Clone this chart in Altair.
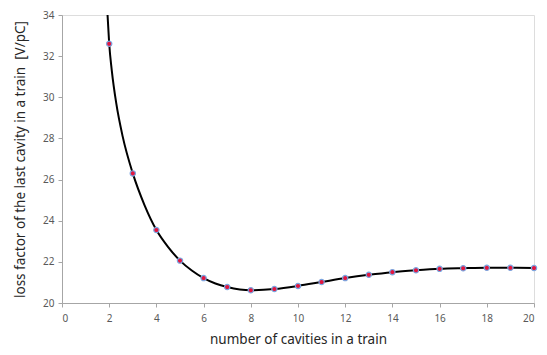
import altair as alt
import pandas as pd

# measured points
n_cav = [2, 3, 4, 5, 6, 7, 8, 9, 10, 11, 12, 13, 14, 15, 16, 17, 18, 19, 20]
loss = [32.6, 26.3, 23.55, 22.06, 21.21, 20.78, 20.62, 20.68, 20.83, 21.02,
        21.21, 21.37, 21.50, 21.59, 21.66, 21.69, 21.71, 21.71, 21.70]

# smooth fitted curve (extends above the first point to the top of the axis)
curve_x = [1.93, 2, 2.11, 2.3, 2.57, 3, 3.5, 4, 4.5, 5, 5.5, 6, 6.5, 7, 8, 9, 10,
           11, 12, 13, 14, 15, 16, 17, 18, 19, 20]
curve_y = [34.0, 32.6, 31.3, 29.7, 28.1, 26.3, 24.75, 23.55, 22.72, 22.06, 21.58,
           21.21, 20.95, 20.78, 20.62, 20.68, 20.83, 21.02, 21.21, 21.37, 21.50, 21.59,
           21.66, 21.69, 21.71, 21.71, 21.70]

pts = pd.DataFrame({"x": n_cav, "y": loss})
crv = pd.DataFrame({"x": curve_x, "y": curve_y})

xs = alt.Scale(domain=[0, 20], nice=False)
ys = alt.Scale(domain=[20, 34], nice=False)

x_axis = alt.Axis(values=list(range(0, 21, 2)), title="number of cavities in a train",
                  grid=False, domainColor="#a6a6a6", tickColor="#a6a6a6", tickSize=4,
                  labelColor="#595959", labelFontSize=10, labelPadding=6,
                  titleFontSize=13.5, titleFontWeight="normal", titleColor="#262626",
                  titlePadding=9, labelFont="Noto Sans", titleFont="Noto Sans")
y_axis = alt.Axis(values=list(range(20, 35, 2)),
                  title="loss factor of the last cavity in a train \u00a0[V/pC]",
                  grid=False, domainColor="#a6a6a6", tickColor="#a6a6a6", tickSize=4,
                  labelColor="#595959", labelFontSize=10, labelPadding=4,
                  titleFontSize=13.5, titleFontWeight="normal", titleColor="#262626",
                  titlePadding=15, labelFont="Noto Sans", titleFont="Noto Sans")

line = alt.Chart(crv).mark_line(color="black", strokeWidth=2, interpolate="monotone", clip=True).encode(
    x=alt.X("x:Q", scale=xs, axis=x_axis),
    y=alt.Y("y:Q", scale=ys, axis=y_axis),
)
dots = alt.Chart(pts).mark_point(filled=True, shape="circle", size=28, color="#e3163f",
                                 stroke="#7aa6e0", strokeWidth=1.2, opacity=1).encode(
    x=alt.X("x:Q", scale=xs),
    y=alt.Y("y:Q", scale=ys),
)

chart = (line + dots).properties(
    width=472, height=288,
    autosize=alt.AutoSizeParams(type="none"),
    padding={"left": 54, "top": 7, "right": 5, "bottom": 46},
).configure_view(stroke=None).configure(background="white")

chart.save("out.html", embed_options={"renderer": "svg", "actions": False})
